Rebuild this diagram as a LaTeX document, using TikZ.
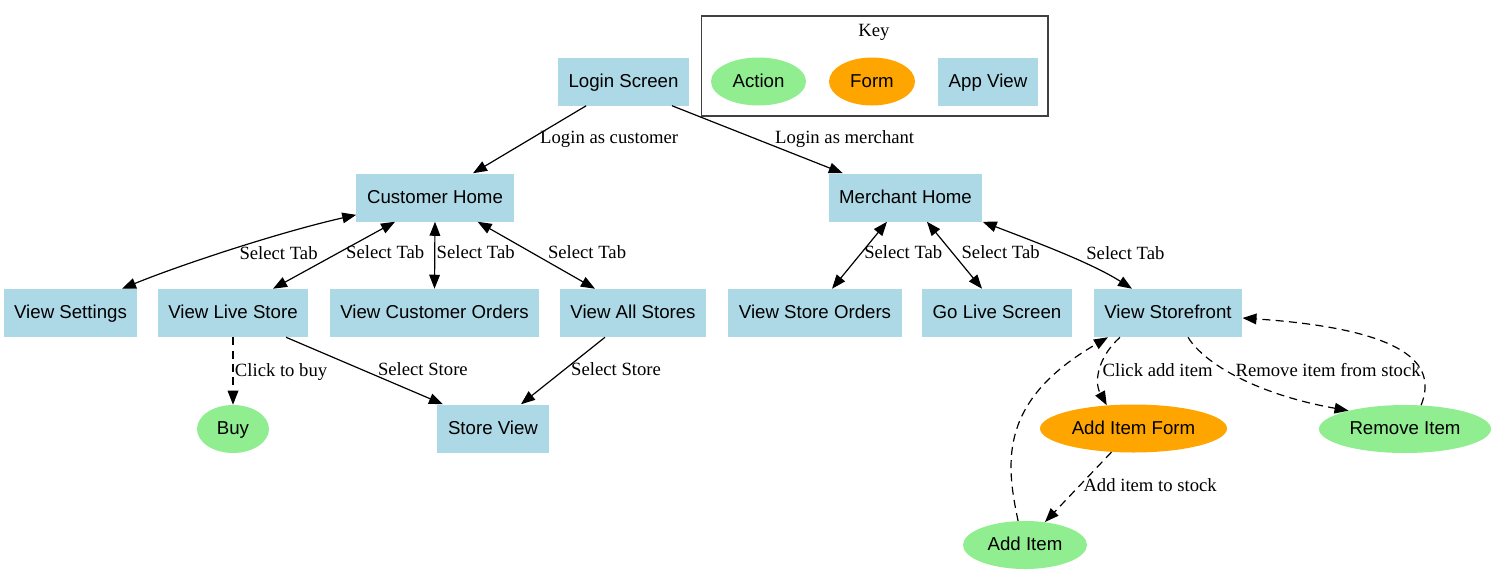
\documentclass[tikz,border=0pt]{standalone}
\usepackage{fontspec}
\setmainfont{Liberation Serif}
\setsansfont{Liberation Sans}
\usetikzlibrary{arrows.meta, shapes.geometric}
\definecolor{viewblue}{HTML}{ADD8E6}
\definecolor{actgreen}{HTML}{90EE90}
\definecolor{formorange}{HTML}{FFA500}

\begin{document}
\begin{tikzpicture}[
  x=0.75pt, y=-0.75pt,
  appview/.style={
    rectangle, fill=viewblue, font=\sffamily\fontsize{14}{16}\selectfont,
    text height=10.5pt, text depth=2pt,
    inner xsep=7.92pt, inner ysep=0pt, minimum height=36pt},
  action/.style={
    ellipse, fill=actgreen, font=\sffamily\fontsize{14}{16}\selectfont,
    text height=10.5pt, text depth=2pt,
    inner sep=0pt, minimum height=36pt},
  form/.style={
    ellipse, fill=formorange, font=\sffamily\fontsize{14}{16}\selectfont,
    text height=10.5pt, text depth=2pt,
    inner sep=0pt, minimum height=36pt},
  go/.style={-{Triangle[length=10.5pt, width=8pt]}, line width=0.9pt},
  tab/.style={{Triangle[length=10.5pt, width=8pt]}-{Triangle[length=10.5pt, width=8pt]},
    line width=0.9pt},
  flow/.style={go, dash pattern=on 6pt off 4pt},
  lbl/.style={font=\fontsize{14}{16}\selectfont, inner sep=1pt,
    text height=10pt, text depth=2.5pt},
  keybox/.style={draw=black!75, line width=1pt, inner sep=0pt,
    minimum width=260pt, minimum height=75pt},
]
  \useasboundingbox (0,0) rectangle (1496,575);

  %% Key
  \node[keybox] (key) at (874.5,66) {};
  \node[lbl] (keytitle) at (874,31) {Key};
  \node[action, minimum width=71.25pt] (legact) at (758.5,81.5) {Action};
  \node[form, minimum width=64.5pt] (legform) at (872,81.5) {Form};
  \node[appview] (legview) at (988,81.5) {App View};

  %% Screens
  \node[appview] (login) at (623.5,81.5) {Login Screen};
  \node[appview] (cust) at (435,197.5) {Customer Home};
  \node[appview] (merch) at (905.5,197.5) {Merchant Home};

  \node[appview] (vset) at (70.5,313) {View Settings};
  \node[appview] (vls) at (233,313) {View Live Store};
  \node[appview] (vco) at (434.5,313) {View Customer Orders};
  \node[appview] (vas) at (633,313) {View All Stores};
  \node[appview] (vso) at (815,313) {View Store Orders};
  \node[appview] (golive) at (997,313) {Go Live Screen};
  \node[appview] (vsf) at (1168,313) {View Storefront};

  \node[action, minimum width=54pt] (buy) at (233,429) {Buy};
  \node[appview] (storev) at (493,428.5) {Store View};
  \node[form, minimum width=140.25pt] (aif) at (1133.5,428.5) {Add Item Form};
  \node[action, minimum width=129pt] (ri) at (1405,429) {Remove Item};
  \node[action, minimum width=93pt] (ai) at (1025,545) {Add Item};

  %% Login
  \draw[go] ([xshift=-28pt]login.south) --
    node[lbl, pos=0.48, xshift=58pt] {Login as customer}
    ([xshift=28.5pt]cust.north);
  \draw[go] ([xshift=36.4pt]login.south) --
    node[lbl, pos=0.48, xshift=68pt] {Login as merchant}
    ([xshift=-47pt]merch.north);

  %% Customer tabs
  \draw[tab] ([yshift=-13pt]cust.west) .. controls (280,232) and (180,265) ..
    ([xshift=38.6pt]vset.north)
    node[lbl, pos=0.4, xshift=15.75pt, yshift=-9.5pt] {Select Tab};
  \draw[tab] ([xshift=-30pt]cust.south) --
    node[lbl, pos=0.48, xshift=36.6pt] {Select Tab} ([xshift=30pt]vls.north);
  \draw[tab] (cust.south) --
    node[lbl, right, pos=0.48] {Select Tab} (vco.north);
  \draw[tab] ([xshift=32pt]cust.south) --
    node[lbl, pos=0.48, xshift=39.8pt] {Select Tab} ([xshift=-28.5pt]vas.north);

  \draw[flow] (vls.south) -- node[lbl, right, pos=0.5] {Click to buy} (buy.north);
  \draw[go] ([xshift=39.75pt]vls.south) --
    node[lbl, pos=0.5, xshift=43.8pt] {Select Store} ([xshift=-37.5pt]storev.north);
  \draw[go] ([xshift=-21pt]vas.south) --
    node[lbl, pos=0.5, xshift=39.8pt] {Select Store} ([xshift=21pt]storev.north);

  %% Merchant tabs
  \draw[tab] ([xshift=-13.9pt]merch.south) --
    node[lbl, pos=0.48, xshift=32pt] {Select Tab} ([xshift=12.75pt]vso.north);
  \draw[tab] ([xshift=16.1pt]merch.south) --
    node[lbl, pos=0.48, xshift=35.4pt] {Select Tab} ([xshift=-11.25pt]golive.north);
  \draw[tab] (merch.south east) .. controls (1030,240) and (1090,262) ..
    ([xshift=-27pt]vsf.north)
    node[lbl, pos=0.5, xshift=49.5pt, yshift=-1.5pt] {Select Tab};

  %% Storefront
  \draw[flow] ([xshift=-36pt]vsf.south) .. controls (1100,355) and (1093,380) ..
    (aif.139) node[lbl, pos=0.5, anchor=west, yshift=-2pt] {Click add item};
  \draw[flow] (ai.106) .. controls (1005,460) and (1000,400) ..
    ([xshift=-45pt]vsf.south);
  \draw[flow] ([xshift=15pt]vsf.south) .. controls (1205,365) and (1260,395) ..
    (ri.162) node[lbl, pos=0.45, anchor=west, yshift=2pt] {Remove item from stock};
  \draw[flow] (ri.56) .. controls (1435,370) and (1420,330) ..
    ([yshift=-3.75pt]vsf.east);
  \draw[flow] (aif.227) -- (ai.49)
    node[lbl, pos=0.49, anchor=west, xshift=2pt] {Add item to stock};
\end{tikzpicture}
\end{document}
